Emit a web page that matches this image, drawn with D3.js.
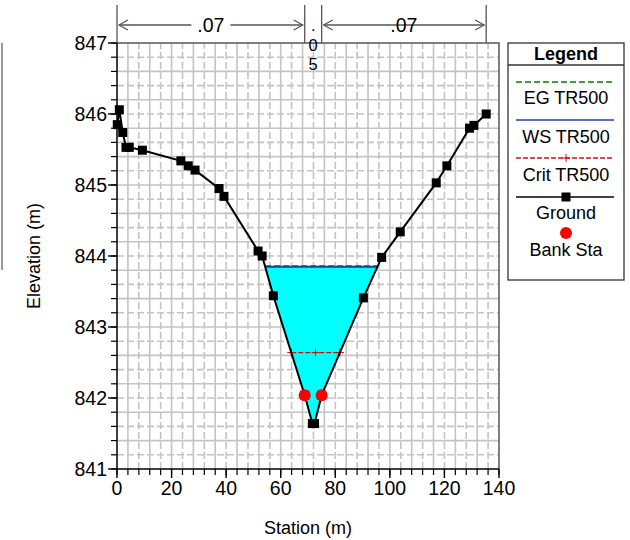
<!DOCTYPE html>
<html>
<head>
<meta charset="utf-8">
<script src="https://cdn.jsdelivr.net/npm/d3@7"></script>
<style>
  html, body { margin: 0; padding: 0; background: #fff; }
  svg { display: block; font-family: "Liberation Sans", Arial, sans-serif; }
</style>
</head>
<body>
<svg id="chart" width="630" height="540"></svg>
<script>
// Cross-section ground profile (station m, elevation m)
const groundStation = [0.1, 0.85, 2.1, 3.3, 4.5, 9.3, 23.4, 26.1, 28.6, 37.4, 39.2, 51.7, 53.2, 57.3,
                       68.8, 71.6, 72.4, 75.0, 90.3, 97.0, 103.8, 117.0, 120.9, 129.2, 130.8, 135.3];
const groundElev = [845.85, 846.06, 845.74, 845.53, 845.53, 845.49, 845.34, 845.27, 845.21, 844.95, 844.84, 844.07, 844.00, 843.44,
                    842.04, 841.64, 841.64, 842.04, 843.41, 843.98, 844.34, 845.03, 845.27, 845.80, 845.84, 846.00];

// Bank stations
const bankStation = [68.8, 75.0];
const bankElev = [842.04, 842.04];

// Profile levels for TR500
const egElev = 843.86;
const wsElev = 843.85;
const critElev = 842.64;

// Manning's n regions
const nValues = [".07", ".05", ".07"];
const nBreaks = [0, 68.8, 75.0, 135.3];

// Axis ticks
const xTicks = [0, 20, 40, 60, 80, 100, 120, 140];
const yTicks = [841, 842, 843, 844, 845, 846, 847];

// Legend entries
const legendNames = ["EG TR500", "WS TR500", "Crit TR500", "Ground", "Bank Sta"];

const svg = d3.select("#chart");
const x = d3.scaleLinear().domain([0, 140]).range([117, 499]);
const y = d3.scaleLinear().domain([841, 847]).range([469, 43]);
const ground = groundStation.map((s, i) => [s, groundElev[i]]);

// ---- grid ----
const grid = svg.append("g");
const xGrid = d3.range(4, 140, 4);
const yGrid = d3.range(841.2, 847, 0.2);
grid.selectAll("line.vx").data(xGrid).join("line")
  .attr("x1", d => x(d)).attr("x2", d => x(d))
  .attr("y1", y(841)).attr("y2", y(847))
  .attr("stroke", "#c4c4c4").attr("stroke-width", 1.6)
  .attr("stroke-dasharray", (d, i) => i % 2 ? "7,3" : null);
grid.selectAll("line.hy").data(yGrid).join("line")
  .attr("x1", x(0)).attr("x2", x(140))
  .attr("y1", d => y(d)).attr("y2", d => y(d))
  .attr("stroke", "#c4c4c4").attr("stroke-width", 1.6)
  .attr("stroke-dasharray", (d, i) => i % 2 ? null : "7,3");

// ---- water fill below WS ----
function crossings(level) {
  const pts = [];
  for (let i = 0; i < ground.length - 1; i++) {
    const [s0, e0] = ground[i], [s1, e1] = ground[i + 1];
    if ((e0 - level) * (e1 - level) < 0) {
      pts.push(s0 + (level - e0) / (e1 - e0) * (s1 - s0));
    }
  }
  return pts;
}
const wsX = crossings(wsElev);
const wsL = wsX[0], wsR = wsX[wsX.length - 1];
const fillPts = [[wsL, wsElev]]
  .concat(ground.filter(p => p[0] > wsL && p[0] < wsR))
  .concat([[wsR, wsElev]]);
svg.append("path")
  .attr("d", d3.line().x(d => x(d[0])).y(d => y(d[1]))(fillPts) + "Z")
  .attr("fill", "#00ffff").attr("stroke", "none");

// ---- EG and WS lines ----
svg.append("line")
  .attr("x1", x(wsL)).attr("x2", x(wsR)).attr("y1", y(egElev)).attr("y2", y(egElev))
  .attr("stroke", "#008000").attr("stroke-width", 1.5).attr("stroke-dasharray", "6,3");
svg.append("line")
  .attr("x1", x(wsL)).attr("x2", x(wsR)).attr("y1", y(wsElev)).attr("y2", y(wsElev))
  .attr("stroke", "#1f3f8f").attr("stroke-width", 2);

// ---- critical depth line ----
const cX = crossings(critElev);
const cL = cX[0], cR = cX[cX.length - 1];
svg.append("line")
  .attr("x1", x(cL)).attr("x2", x(cR)).attr("y1", y(critElev)).attr("y2", y(critElev))
  .attr("stroke", "#d01010").attr("stroke-width", 1.3).attr("stroke-dasharray", "5,2");
[cL, (cL + cR) / 2, cR].forEach(s => {
  svg.append("path")
    .attr("d", `M${x(s) - 4},${y(critElev)}h8M${x(s)},${y(critElev) - 4}v8`)
    .attr("stroke", "#d01010").attr("stroke-width", 1);
});

// ---- ground line + markers ----
svg.append("path")
  .attr("d", d3.line().x(d => x(d[0])).y(d => y(d[1]))(ground))
  .attr("fill", "none").attr("stroke", "#000").attr("stroke-width", 2);
svg.selectAll("rect.g").data(ground).join("rect")
  .attr("x", d => x(d[0]) - 4.5).attr("y", d => y(d[1]) - 4.5)
  .attr("width", 9).attr("height", 9).attr("fill", "#000");

// ---- bank stations ----
svg.selectAll("circle.b").data(bankStation).join("circle")
  .attr("cx", d => x(d)).attr("cy", (d, i) => y(bankElev[i]))
  .attr("r", 6).attr("fill", "#ff0000");

// ---- frame ----
svg.append("path")
  .attr("d", `M${x(0)},${y(847)}H${x(140)}V${y(841)}`)
  .attr("fill", "none").attr("stroke", "#555").attr("stroke-width", 1.5);

// ---- axes ----
const fontSize = 19.5;
const xAxis = svg.append("g").attr("transform", `translate(0,${y(841)})`);
xAxis.append("line").attr("x1", x(0)).attr("x2", x(140)).attr("stroke", "#000").attr("stroke-width", 1.5);
xAxis.selectAll("line.mt").data(d3.range(0, 141, 4)).join("line")
  .attr("x1", d => x(d)).attr("x2", d => x(d)).attr("y1", 0).attr("y2", 6)
  .attr("stroke", "#000").attr("stroke-width", 1.2);
xAxis.selectAll("line.Mt").data(xTicks).join("line")
  .attr("x1", d => x(d)).attr("x2", d => x(d)).attr("y1", 0).attr("y2", 9)
  .attr("stroke", "#000").attr("stroke-width", 1.4);
xAxis.selectAll("text").data(xTicks).join("text")
  .attr("x", d => x(d)).attr("y", 26).attr("text-anchor", "middle")
  .attr("font-size", fontSize).text(d => d);

const yAxis = svg.append("g").attr("transform", `translate(${x(0)},0)`);
yAxis.append("line").attr("y1", y(841)).attr("y2", y(847)).attr("stroke", "#000").attr("stroke-width", 1.5);
yAxis.selectAll("line.mt").data(d3.range(841, 847.01, 0.2)).join("line")
  .attr("y1", d => y(d)).attr("y2", d => y(d)).attr("x1", -6).attr("x2", 0)
  .attr("stroke", "#000").attr("stroke-width", 1.2);
yAxis.selectAll("line.Mt").data(yTicks).join("line")
  .attr("y1", d => y(d)).attr("y2", d => y(d)).attr("x1", -9).attr("x2", 0)
  .attr("stroke", "#000").attr("stroke-width", 1.4);
yAxis.selectAll("text").data(yTicks).join("text")
  .attr("x", -10).attr("y", d => y(d) + 7).attr("text-anchor", "end")
  .attr("font-size", fontSize).text(d => d);

// axis titles
svg.append("text").attr("x", 308).attr("y", 534).attr("text-anchor", "middle")
  .attr("font-size", 18).text("Station (m)");
svg.append("text").attr("transform", "translate(40,256) rotate(-90)")
  .attr("text-anchor", "middle").attr("font-size", 18).text("Elevation (m)");

// left border line
svg.append("line").attr("x1", 2).attr("x2", 2).attr("y1", 43).attr("y2", 270)
  .attr("stroke", "#777").attr("stroke-width", 1.5);

// ---- Manning's n annotations ----
const nGroup = svg.append("g");
const arrowY = 25;
nBreaks.forEach(s => {
  nGroup.append("line").attr("x1", x(s)).attr("x2", x(s)).attr("y1", 5).attr("y2", y(847))
    .attr("stroke", "#555").attr("stroke-width", 1.3);
});
nValues.forEach((v, i) => {
  const a = x(nBreaks[i]), b = x(nBreaks[i + 1]);
  const cx = (a + b) / 2;
  if (b - a > 60) {
    nGroup.append("line").attr("x1", a + 2).attr("x2", b - 2).attr("y1", arrowY).attr("y2", arrowY)
      .attr("stroke", "#555").attr("stroke-width", 1.3);
    nGroup.append("path").attr("d", `M${a + 11},${arrowY - 5}L${a + 2},${arrowY}L${a + 11},${arrowY + 5}`)
      .attr("fill", "none").attr("stroke", "#555").attr("stroke-width", 1.2);
    nGroup.append("path").attr("d", `M${b - 11},${arrowY - 5}L${b - 2},${arrowY}L${b - 11},${arrowY + 5}`)
      .attr("fill", "none").attr("stroke", "#555").attr("stroke-width", 1.2);
    const t = nGroup.append("text").attr("x", cx).attr("y", arrowY + 7).attr("text-anchor", "middle")
      .attr("font-size", fontSize).text(v);
    const bb = t.node().getBBox();
    nGroup.insert("rect", "text").attr("x", bb.x - 6).attr("y", arrowY - 3).attr("width", bb.width + 12)
      .attr("height", 6).attr("fill", "#fff");
  } else {
    // narrow region: characters stacked vertically
    v.split("").forEach((ch, k) => {
      nGroup.append("text").attr("x", cx).attr("y", 31 + k * 19.5).attr("text-anchor", "middle")
        .attr("font-size", 16.5).text(ch);
    });
  }
});

// ---- legend ----
const lg = svg.append("g");
lg.append("rect").attr("x", 508).attr("y", 43).attr("width", 116).attr("height", 237)
  .attr("fill", "#fff").attr("stroke", "#333").attr("stroke-width", 1.3);
lg.append("line").attr("x1", 508).attr("x2", 624).attr("y1", 65).attr("y2", 65)
  .attr("stroke", "#333").attr("stroke-width", 1.3);
lg.append("text").attr("x", 566).attr("y", 60).attr("text-anchor", "middle")
  .attr("font-size", 18).attr("font-weight", "bold").text("Legend");
const lx1 = 516, lx2 = 614, lmid = 566;
const symY = [82, 120, 158, 197, 233];
const txtY = [104, 143, 181, 219, 256];
lg.append("line").attr("x1", lx1).attr("x2", lx2).attr("y1", symY[0]).attr("y2", symY[0])
  .attr("stroke", "#008000").attr("stroke-width", 1.5).attr("stroke-dasharray", "6,3");
lg.append("line").attr("x1", lx1).attr("x2", lx2).attr("y1", symY[1]).attr("y2", symY[1])
  .attr("stroke", "#1f3fa8").attr("stroke-width", 1.5);
lg.append("line").attr("x1", lx1).attr("x2", lx2).attr("y1", symY[2]).attr("y2", symY[2])
  .attr("stroke", "#d01010").attr("stroke-width", 1.3).attr("stroke-dasharray", "5,2");
lg.append("path").attr("d", `M${lmid - 4},${symY[2]}h8M${lmid},${symY[2] - 4}v8`)
  .attr("stroke", "#d01010").attr("stroke-width", 1);
lg.append("line").attr("x1", lx1).attr("x2", lx2).attr("y1", symY[3]).attr("y2", symY[3])
  .attr("stroke", "#000").attr("stroke-width", 1.5);
lg.append("rect").attr("x", lmid - 4.5).attr("y", symY[3] - 4.5).attr("width", 9).attr("height", 9).attr("fill", "#000");
lg.append("circle").attr("cx", lmid).attr("cy", symY[4]).attr("r", 6).attr("fill", "#ff0000");
lg.selectAll("text.item").data(legendNames).join("text")
  .attr("x", lmid).attr("y", (d, i) => txtY[i]).attr("text-anchor", "middle")
  .attr("font-size", 18).text(d => d);
</script>
</body>
</html>
